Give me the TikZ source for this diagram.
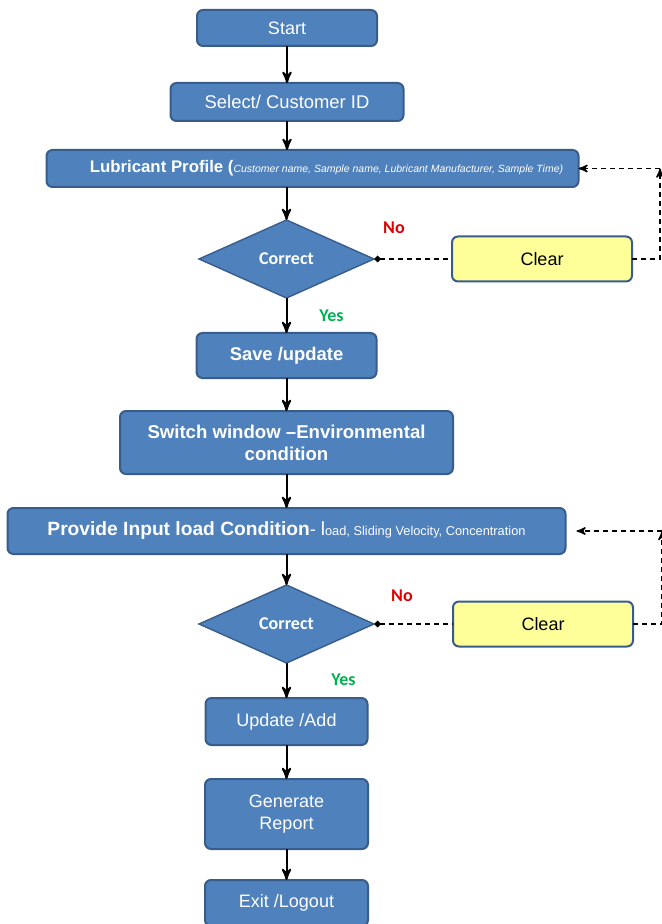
\documentclass[tikz,border=0pt]{standalone}
\usepackage{fontspec}
\setmainfont{Liberation Sans}
\newfontfamily\calibri{Carlito}
\usetikzlibrary{arrows,arrows.meta,positioning,shapes.geometric}
\definecolor{boxblue}{HTML}{4F81BD}
\definecolor{boxedge}{HTML}{385D8A}
\definecolor{clearyellow}{HTML}{FFFF99}
\definecolor{nored}{HTML}{E00000}
\definecolor{yesgreen}{HTML}{00B050}
\tikzset{
    %Define standard arrow tip
    >=stealth',
    %Define style for boxes
    process/.style={
           rectangle,
           rounded corners=3pt,
           draw=boxedge, line width=1pt,
           fill=boxblue,
           text=white,
           font=\fontsize{9}{11}\selectfont,
           align=center,
           outer sep=0pt,
           inner sep=0pt},
    decision/.style={
           diamond,
           draw=boxedge, line width=0.7pt,
           fill=boxblue,
           text=white,
           font=\calibri\bfseries\fontsize{9}{10}\selectfont,
           inner sep=0pt,
           outer sep=0pt,
           minimum width=87.5pt,
           minimum height=39pt},
    clearbox/.style={
           rectangle,
           rounded corners=3pt,
           draw=boxedge, line width=1pt,
           fill=clearyellow,
           text=black,
           font=\fontsize{9}{11}\selectfont,
           outer sep=0pt,
           minimum width=90pt,
           minimum height=22.5pt},
    % Define arrow style
    flow/.style={
           ->,
           line width=1pt},
    back/.style={
           dash pattern=on 2.5pt off 2pt,
           line width=0.7pt},
    dtip/.style={{Diamond[length=3.5pt,width=3.5pt]}-},
    nolabel/.style={text=nored, font=\calibri\bfseries\fontsize{9}{10}\selectfont},
    yeslabel/.style={text=yesgreen, font=\calibri\bfseries\fontsize{9}{10}\selectfont}
}
\begin{document}
\begin{tikzpicture}
\useasboundingbox (0,0) rectangle (331pt,-462pt);
 %nodes
\node[process, minimum width=90pt, minimum height=18pt] (start) at (143.5pt,-14pt) {Start};
\node[process, minimum width=116.5pt, minimum height=19pt, below=18.5pt of start, font=\fontsize{9.2}{11}\selectfont] (select) {Select/ Customer ID};
\node[process, minimum width=266pt, minimum height=18.5pt, below=14.5pt of select, xshift=12.75pt] (lub)
  {\hspace{14pt}\textbf{\fontsize{8.4}{10}\selectfont Lubricant Profile (}{\fontsize{5.25}{6}\selectfont\itshape Customer name, Sample name, Lubricant Manufacturer, Sample Time)}};
\node[decision, below=16.5pt of lub, xshift=-13pt] (cor1) {Correct};
\node[clearbox, right=39pt of cor1] (clear1) {Clear};
\node[process, minimum width=90pt, minimum height=22.5pt, below=17.5pt of cor1, font=\bfseries\fontsize{9.2}{11}\selectfont] (save) {Save /update};
\node[process, minimum width=166.5pt, minimum height=31.5pt, below=16.5pt of save, font=\bfseries\fontsize{9.3}{11}\selectfont] (switch) {Switch window --Environmental\\condition};
\node[process, minimum width=279pt, minimum height=23pt, below=17pt of switch] (prov)
  {\textbf{\fontsize{9.6}{11}\selectfont Provide Input load Condition}- {\fontsize{9.6}{11}\selectfont l}{\fontsize{6.4}{7}\selectfont oad, Sliding Velocity, Concentration}};
\node[decision, below=15.5pt of prov] (cor2) {Correct};
\node[clearbox, right=39.5pt of cor2] (clear2) {Clear};
\node[process, minimum width=81pt, minimum height=23.5pt, below=17.5pt of cor2] (update) {Update /Add};
\node[process, minimum width=81.5pt, minimum height=35pt, below=17pt of update] (gen) {Generate\\Report};
\node[process, minimum width=81.5pt, minimum height=23pt, below=15.5pt of gen] (exit) {Exit /Logout};
 %labels
\node[nolabel] (no1) at ([xshift=10pt,yshift=15.5pt]cor1.east) {No};
\node[yeslabel] (yes1) at ([xshift=22.5pt,yshift=-9pt]cor1.south) {Yes};
\node[nolabel] (no2) at ([xshift=14pt,yshift=14pt]cor2.east) {No};
\node[yeslabel] (yes2) at ([xshift=28.5pt,yshift=-8.5pt]cor2.south) {Yes};
 %main flow
\draw[flow] (start) -- (select);
\draw[flow] (select.south) -- (select.south |- lub.north);
\draw[flow] (cor1.north |- lub.south) -- (cor1.north);
\draw[flow] (cor1.south) -- (save.north);
\draw[flow] (save) -- (switch);
\draw[flow] (switch) -- (prov);
\draw[flow] (prov) -- (cor2);
\draw[flow] (cor2) -- (update);
\draw[flow] (update) -- (gen);
\draw[flow] (gen) -- (exit);
 %feedback
\coordinate[right=14pt of clear1.east] (r1);
\coordinate[right=14.5pt of clear2.east] (r2);
\draw[back, dtip] (cor1.east) -- (clear1.west);
\draw[back, dtip, -stealth'] (clear1.east) -- (r1) -- (r1 |- lub.east);
\draw[back, ->] (r1 |- lub.east) -- (lub.east);
\draw[back, dtip] (cor2.east) -- (clear2.west);
\draw[back, dtip, -stealth'] (clear2.east) -- (r2) -- (r2 |- prov.east);
\draw[back, ->, shorten >=5.5pt] (r2 |- prov.east) -- (prov.east);
\end{tikzpicture}
\end{document}
